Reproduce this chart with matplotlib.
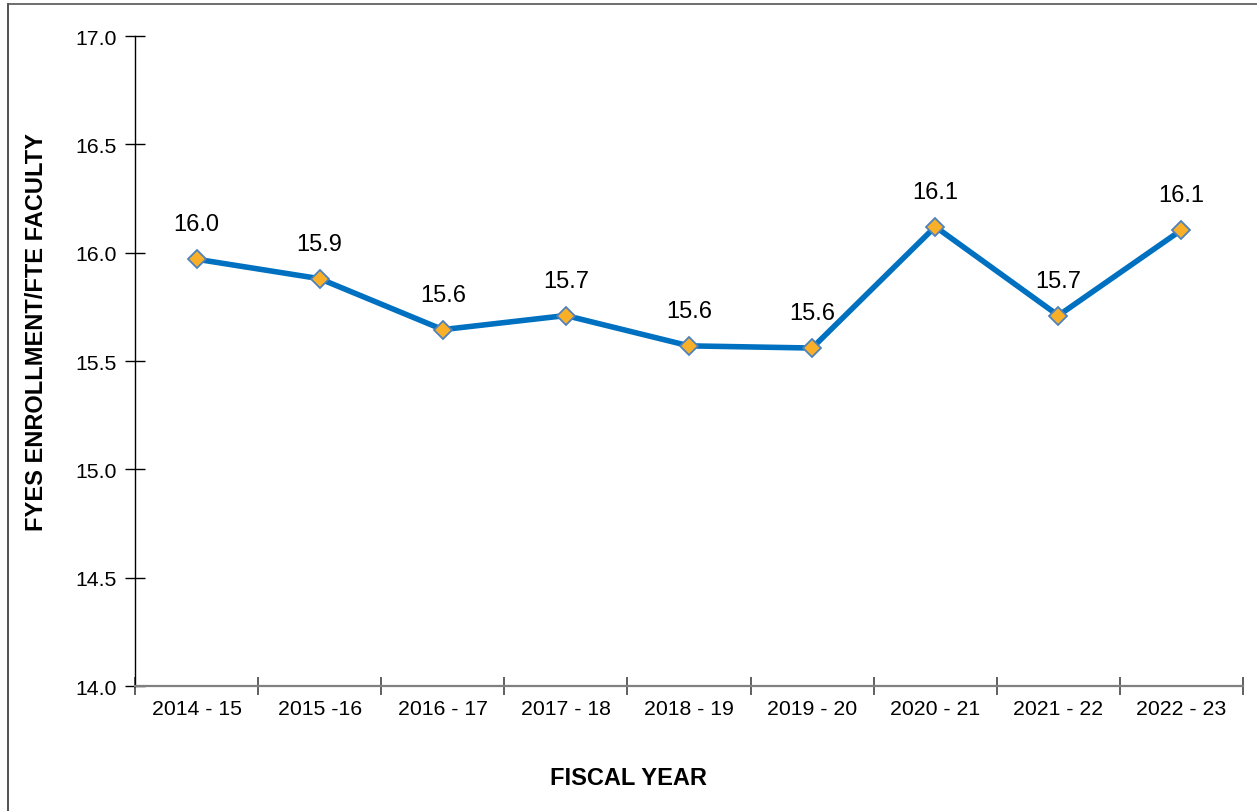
import matplotlib
matplotlib.use("Agg")
import matplotlib.pyplot as plt
from matplotlib.lines import Line2D

plt.rcParams['font.family'] = ['Liberation Sans', 'DejaVu Sans']

categories = ["2014 - 15", "2015 -16", "2016 - 17", "2017 - 18", "2018 - 19",
              "2019 - 20", "2020 - 21", "2021 - 22", "2022 - 23"]
values = [15.97, 15.88, 15.645, 15.71, 15.57, 15.56, 16.12, 15.71, 16.105]
yticks = [14.0, 14.5, 15.0, 15.5, 16.0, 16.5, 17.0]

fig = plt.figure(figsize=(12.57, 8.12), dpi=100)
ax = fig.add_axes([0.1074, 0.1539, 0.8815, 0.8005])

x = list(range(len(categories)))
ax.plot(x, values, color='#0070C0', linewidth=4.0, marker='D', markersize=9.6,
        markerfacecolor='#F9B028', markeredgecolor='#4F81BD', markeredgewidth=1.3,
        solid_joinstyle='round', zorder=3)
for xi, v in zip(x, values):
    ax.annotate(f"{v:.1f}", (xi, v), xytext=(0, 25), textcoords='offset points',
                ha='center', va='center', fontsize=17, color='black')

ax.set_xlim(-0.5, len(categories) - 0.5)
ax.set_ylim(14.0, 17.0)
ax.set_yticks(yticks)
ax.set_yticklabels([f"{t:.1f}" for t in yticks])
ax.set_xticks(x)
ax.set_xticklabels(categories)
ax.set_xticks([i - 0.5 for i in range(len(categories) + 1)], minor=True)
ax.tick_params(axis='x', which='major', length=0, labelsize=15.3, pad=9)
ax.tick_params(axis='x', which='minor', length=13, direction='inout', color='#444444', width=1.2)
ax.tick_params(axis='y', length=14, direction='inout', labelsize=15.3, pad=6, width=1)

for s in ['top', 'right']:
    ax.spines[s].set_visible(False)
ax.spines['bottom'].set_color('#808080')
ax.spines['bottom'].set_linewidth(1.6)
ax.spines['left'].set_color('black')
ax.spines['left'].set_linewidth(1.0)

fig.text(0.4996, 1 - 779 / 812, "FISCAL YEAR", ha='center', va='center',
         fontsize=17, fontweight='bold')
fig.text(37 / 1257, 1 - 332 / 812, "FYES ENROLLMENT/FTE FACULTY", ha='center', va='center',
         rotation=90, fontsize=17, fontweight='bold')

# figure border (top and left)
fig.add_artist(Line2D([8 / 1257, 8 / 1257], [0, 1 - 5 / 812], transform=fig.transFigure,
                      color='#333333', linewidth=1.2))
fig.add_artist(Line2D([8 / 1257, 1], [1 - 5 / 812, 1 - 5 / 812], transform=fig.transFigure,
                      color='#555555', linewidth=1.2))

fig.savefig("out.png", dpi=100)
